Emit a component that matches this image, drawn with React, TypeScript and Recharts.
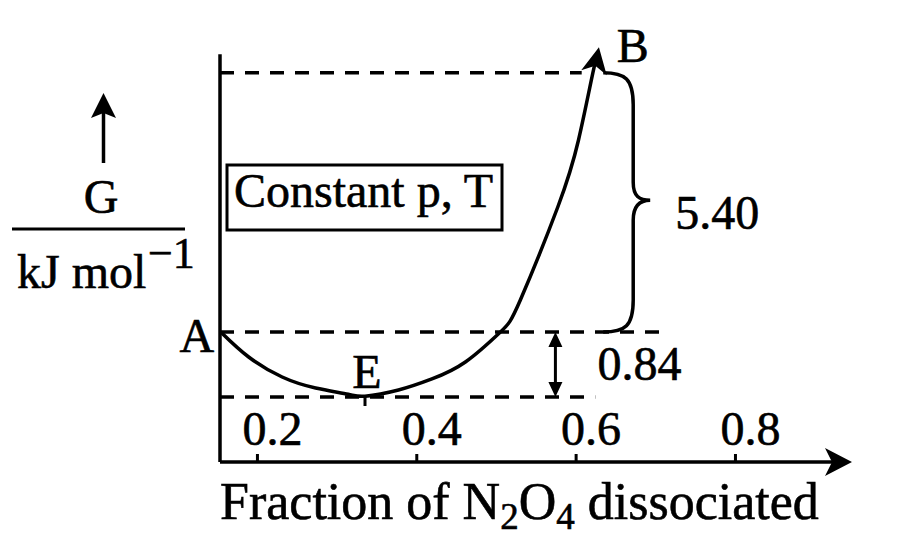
import React from 'react';
import { LineChart, Line, XAxis, YAxis, ReferenceLine, ReferenceDot } from 'recharts';

document.body.style.margin = '0';

const FONT = '"Liberation Serif", "DejaVu Serif", serif';
const INK = '#000';

// G vs fraction dissociated (schematic units, E level = 0)
const fraction = [0.154, 0.189, 0.231, 0.273, 0.314, 0.335, 0.377, 0.419, 0.461, 0.505, 0.53, 0.577, 0.603, 0.621, 0.626];
const gibbs = [0.84, 0.517, 0.258, 0.116, 0.035, 0.01, 0.09, 0.233, 0.452, 0.84, 1.254, 2.455, 3.321, 4.187, 4.381];

const xTicks = [0.2, 0.4, 0.6, 0.8];
const xDomain = [0.153, 0.94];
const yDomain = [-0.84, 4.6];
const yAxisTop = 4.43;

// dashed levels: B (top), A (start), E (minimum)
const levels = [4.19, 0.84, 0];
const levelEnds = [0.607, 0.714, 0.624];
const minFraction = 0.335;
const braceAt = 0.634;
const gapArrowAt = 0.574;
const gapLabels = ['5.40', '0.84'];

const data = fraction.map((x, i) => ({ x, g: gibbs[i] }));
const last = data[data.length - 1];

const textStyle = { fontFamily: FONT, fill: INK, stroke: INK, strokeWidth: 0.6 };

const XTick = (props: any) => {
  const { x, y, payload } = props;
  return (
    <g>
      <line x1={x} x2={x} y1={y} y2={y - 8} stroke={INK} strokeWidth={3} />
      <text x={x + 15} y={y - 17} textAnchor="middle" fontSize={48} {...textStyle}>
        {payload.value.toFixed(1)}
      </text>
    </g>
  );
};

const Brace = (p: any) => {
  const { x1, y1, y2 } = p;
  const top = Math.min(y1, y2);
  const bot = Math.max(y1, y2);
  const mid = (top + bot) / 2;
  const x = x1;
  const d =
    `M${x},${top} C${x + 22},${top} ${x + 30},${top + 6} ${x + 30},${top + 32} ` +
    `L${x + 30},${mid - 20} C${x + 30},${mid - 6} ${x + 36},${mid - 2} ${x + 47},${mid - 2} ` +
    `C${x + 36},${mid - 2} ${x + 30},${mid + 4} ${x + 30},${mid + 18} ` +
    `L${x + 30},${bot - 32} C${x + 30},${bot - 6} ${x + 22},${bot} ${x},${bot}`;
  return (
    <g>
      <path d={d} fill="none" stroke={INK} strokeWidth={3.5} />
      <text x={x + 72} y={mid + 27} fontSize={48} {...textStyle}>{gapLabels[0]}</text>
    </g>
  );
};

const GapArrow = (p: any) => {
  const { x1, y1, y2 } = p;
  const top = Math.min(y1, y2);
  const bot = Math.max(y1, y2);
  return (
    <g>
      <line x1={x1} x2={x1} y1={top + 8} y2={bot - 8} stroke={INK} strokeWidth={3} />
      <polygon points={`${x1},${top} ${x1 - 7},${top + 15} ${x1 + 7},${top + 15}`} fill={INK} />
      <polygon points={`${x1},${bot} ${x1 - 7},${bot - 15} ${x1 + 7},${bot - 15}`} fill={INK} />
      <text x={x1 + 42} y={(top + bot) / 2 + 16} fontSize={48} {...textStyle}>{gapLabels[1]}</text>
    </g>
  );
};

const CurveHead = ({ cx, cy }: any) => (
  <g transform={`translate(${cx},${cy}) rotate(11)`}>
    <polygon points="0,-11 13,15 0,8 -13,15" fill={INK} />
  </g>
);

const AxisHead = ({ cx, cy }: any) => (
  <polygon points={`${cx + 5},${cy} ${cx - 22},${cy - 14} ${cx - 15},${cy} ${cx - 22},${cy + 14}`} fill={INK} />
);

const pointLabel = (text: string, dx: number, dy: number) => ({ cx, cy }: any) => (
  <text x={cx + dx} y={cy + dy} textAnchor="middle" fontSize={48} {...textStyle}>{text}</text>
);

const MinTick = ({ cx, cy }: any) => <line x1={cx} x2={cx} y1={cy} y2={cy + 9} stroke={INK} strokeWidth={3} />;

export default function App() {
  return (
    <div style={{ position: 'relative', width: 900, height: 554, background: '#fff' }}>
      <LineChart width={900} height={554} data={data} margin={{ top: 41, right: 53, bottom: 62, left: 220 }}>
        <XAxis
          dataKey="x"
          type="number"
          domain={xDomain}
          ticks={xTicks}
          height={30}
          tickSize={0}
          tickMargin={0}
          tickLine={false}
          axisLine={{ stroke: INK, strokeWidth: 3.5 }}
          tick={<XTick />}
          allowDataOverflow
        />
        <YAxis hide width={0} type="number" domain={yDomain} allowDataOverflow />

        <ReferenceLine segment={[{ x: xDomain[0], y: yDomain[0] }, { x: xDomain[0], y: yAxisTop }]} stroke={INK} strokeWidth={3.5} />
        {levels.map((lv, i) => (
          <ReferenceLine
            key={i}
            segment={[{ x: xDomain[0], y: lv }, { x: levelEnds[i], y: lv }]}
            stroke={INK}
            strokeWidth={3.5}
            strokeDasharray="14 11"
          />
        ))}
        <ReferenceLine segment={[{ x: braceAt, y: levels[0] }, { x: braceAt, y: levels[1] }]} shape={Brace} />
        <ReferenceLine segment={[{ x: gapArrowAt, y: levels[1] }, { x: gapArrowAt, y: levels[2] }]} shape={GapArrow} />

        <Line type="natural" dataKey="g" stroke={INK} strokeWidth={3.5} dot={false} isAnimationActive={false} />

        <ReferenceDot x={last.x} y={last.g} shape={CurveHead} />
        <ReferenceDot x={xDomain[1]} y={yDomain[0]} shape={AxisHead} />
        <ReferenceDot x={minFraction} y={levels[2]} shape={MinTick} />
        <ReferenceDot x={data[0].x} y={data[0].g} shape={pointLabel('A', -24, 20)} />
        <ReferenceDot x={minFraction} y={levels[2]} shape={pointLabel('E', 2, -9)} />
        <ReferenceDot x={last.x} y={last.g} shape={pointLabel('B', 36, 4)} />
      </LineChart>

      <svg width={900} height={554} style={{ position: 'absolute', left: 0, top: 0, pointerEvents: 'none' }}>
        <line x1={103.5} x2={103.5} y1={163} y2={112} stroke={INK} strokeWidth={3.5} />
        <polygon points="103.5,93 91,118 103.5,113 116,118" fill={INK} />
        <text x={101} y={213} textAnchor="middle" fontSize={48} {...textStyle}>G</text>
        <line x1={12} x2={185} y1={229} y2={229} stroke={INK} strokeWidth={3} />
        <text x={17} y={288} fontSize={48} {...textStyle}>kJ mol</text>
        <text x={148} y={268} fontSize={44} {...textStyle}>−1</text>

        <rect x={227} y={165} width={275} height={65} fill="none" stroke={INK} strokeWidth={3} />
        <text x={234} y={207} fontSize={48} {...textStyle}>Constant p, T</text>

        <text x={220} y={519} fontSize={52} {...textStyle}>
          Fraction of N<tspan fontSize={37} dy={10}>2</tspan>
          <tspan dy={-10}>O</tspan>
          <tspan fontSize={37} dy={10}>4</tspan>
          <tspan dy={-10}> dissociated</tspan>
        </text>
      </svg>
    </div>
  );
}
